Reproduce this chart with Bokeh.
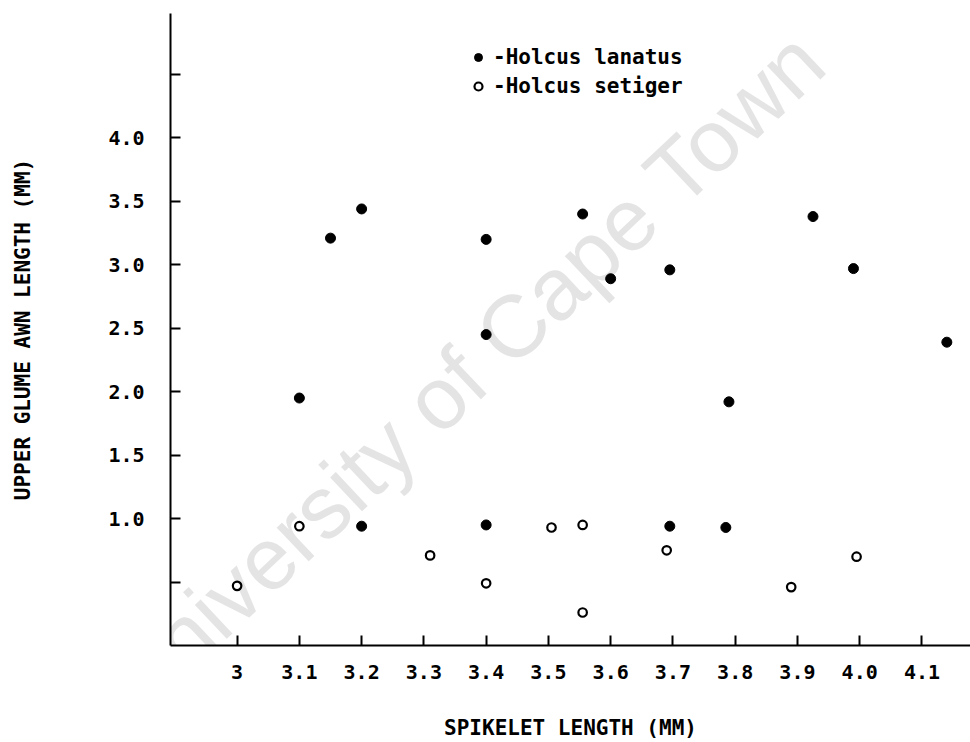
from bokeh.plotting import figure
from bokeh.models import Range1d, FixedTicker, Legend, LegendItem, Label
from bokeh.embed import file_html
from bokeh.resources import INLINE

# ---- data ----
lanatus_x = [3.10, 3.15, 3.20, 3.20, 3.40, 3.40, 3.40, 3.555, 3.60, 3.695, 3.695, 3.785, 3.79, 3.925, 3.99, 4.14]
lanatus_y = [1.95, 3.21, 3.44, 0.94, 3.20, 2.45, 0.95, 3.40, 2.89, 2.96, 0.94, 0.93, 1.92, 3.38, 2.97, 2.39]

setiger_x = [3.00, 3.10, 3.31, 3.40, 3.505, 3.555, 3.555, 3.69, 3.89, 3.995]
setiger_y = [0.47, 0.94, 0.71, 0.49, 0.93, 0.95, 0.26, 0.75, 0.46, 0.70]

x_ticks = [3.0, 3.1, 3.2, 3.3, 3.4, 3.5, 3.6, 3.7, 3.8, 3.9, 4.0, 4.1]
x_tick_labels = ["3", "3.1", "3.2", "3.3", "3.4", "3.5", "3.6", "3.7", "3.8", "3.9", "4.0", "4.1"]
y_ticks = [0.5, 1.0, 1.5, 2.0, 2.5, 3.0, 3.5, 4.0, 4.5]
y_tick_labels = ["", "1.0", "1.5", "2.0", "2.5", "3.0", "3.5", "4.0", ""]

series_names = ["-Holcus lanatus", "-Holcus setiger"]
x_title = "SPIKELET LENGTH (MM)"
y_title = "UPPER GLUME AWN LENGTH (MM)"
watermark = "University of Cape Town"

FONT = "DejaVu Sans Mono"

p = figure(width=970, height=742, output_backend="svg", toolbar_location=None,
           x_range=Range1d(2.893, 4.178), y_range=Range1d(0, 4.98),
           min_border_left=170, min_border_right=0, min_border_top=13, min_border_bottom=97)
p.outline_line_color = None
p.grid.visible = False
p.background_fill_color = "white"
p.border_fill_color = "white"

# faint repository watermark (drawn first, not clipped to the frame)
wm = Label(x=3.366, y=2.153, text=watermark, angle=43.3, angle_units="deg",
           text_align="center", text_baseline="middle",
           text_font="Liberation Sans", text_font_size="88px",
           text_color="#e4e4e4", level="annotation")
p.add_layout(wm)

r1 = p.scatter(lanatus_x, lanatus_y, marker="circle", size=10, fill_color="black", line_color="black")
r2 = p.scatter(setiger_x, setiger_y, marker="circle", size=8.5, line_width=2.2,
               fill_color="white", line_color="black")
r1.level = "overlay"
r2.level = "overlay"

for ax in (p.xaxis[0], p.yaxis[0]):
    ax.level = "overlay"
    ax.axis_line_width = 2
    ax.axis_line_color = "black"
    ax.major_tick_in = 10
    ax.major_tick_out = 0
    ax.major_tick_line_width = 2
    ax.major_tick_line_color = "black"
    ax.minor_tick_line_color = None
    ax.major_label_text_font = FONT
    ax.major_label_text_font_style = "bold"
    ax.major_label_text_font_size = "20px"
    ax.major_label_text_color = "black"
    ax.axis_label_text_font = FONT
    ax.axis_label_text_font_style = "bold"
    ax.axis_label_text_font_size = "21px"
    ax.axis_label_text_color = "black"

p.xaxis.ticker = FixedTicker(ticks=x_ticks)
p.xaxis.major_label_overrides = {t: s for t, s in zip(x_ticks, x_tick_labels)}
p.xaxis.major_label_standoff = 19
p.xaxis.axis_label = x_title
p.xaxis.axis_label_standoff = 34

p.yaxis.ticker = FixedTicker(ticks=y_ticks)
p.yaxis.major_label_overrides = {t: s for t, s in zip(y_ticks, y_tick_labels)}
p.yaxis.major_label_standoff = 26
p.yaxis.axis_label = y_title
p.yaxis.axis_label_standoff = 70

legend = Legend(items=[LegendItem(label=series_names[0], renderers=[r1]),
                       LegendItem(label=series_names[1], renderers=[r2])],
                location=(298, 546), orientation="vertical",
                border_line_color=None, background_fill_alpha=0,
                padding=0, margin=0, spacing=3,
                glyph_width=20, glyph_height=26, label_height=26, label_standoff=5,
                label_text_font=FONT, label_text_font_style="bold",
                label_text_font_size="21px", label_text_color="black")
p.add_layout(legend)

open("out.html", "w").write(file_html(p, INLINE))
